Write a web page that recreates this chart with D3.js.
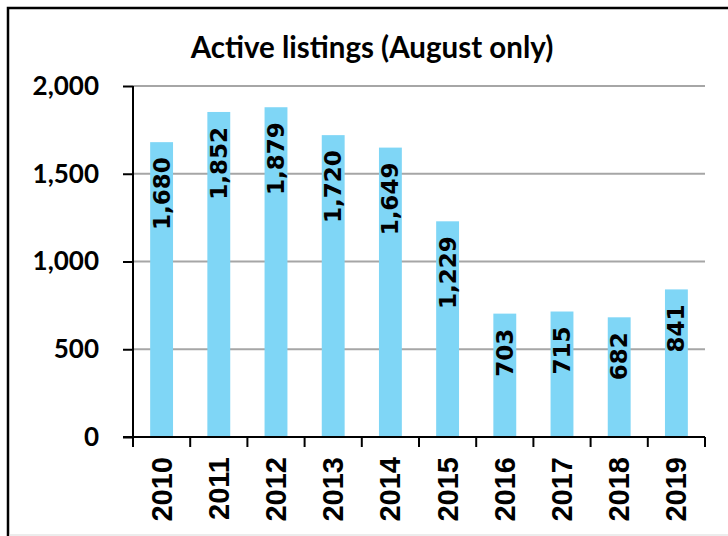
<!DOCTYPE html>
<html>
<head>
<meta charset="utf-8">
<script src="https://cdn.jsdelivr.net/npm/d3@7"></script>
<style>
  html, body { margin: 0; padding: 0; background: #fff; }
  svg { display: block; }
</style>
</head>
<body>
<div id="chart"></div>
<script>
const years = ['2010', '2011', '2012', '2013', '2014', '2015', '2016', '2017', '2018', '2019'];
const listings = [1680, 1852, 1879, 1720, 1649, 1229, 703, 715, 682, 841];
const yTicks = [0, 500, 1000, 1500, 2000];
const title = 'Active listings (August only)';

const width = 728, height = 536;
const margin = { left: 133, right: 23, top: 86, bottom: 99 };

const svg = d3.select('#chart')
  .append('svg')
  .attr('width', width)
  .attr('height', height);

// outer frame (runs off the right and bottom edges)
svg.append('rect')
  .attr('x', 8).attr('y', 8)
  .attr('width', width + 10).attr('height', height + 10)
  .attr('fill', 'none')
  .attr('stroke', '#000')
  .attr('stroke-width', 2.5);
svg.append('line')
  .attr('x1', 9).attr('x2', width)
  .attr('y1', 535).attr('y2', 535)
  .attr('stroke', '#d9d9d9');

const x = d3.scaleBand()
  .domain(years)
  .range([margin.left, width - margin.right])
  .paddingInner(0.6)
  .paddingOuter(0.3);

const y = d3.scaleLinear()
  .domain([0, 2000])
  .range([height - margin.bottom, margin.top]);

// gridlines
svg.append('g')
  .selectAll('line')
  .data(yTicks.filter(d => d > 0))
  .enter()
  .append('line')
  .attr('x1', margin.left)
  .attr('x2', width - margin.right)
  .attr('y1', d => y(d))
  .attr('y2', d => y(d))
  .attr('stroke', '#a6a6a6')
  .attr('stroke-width', 2);

// bars
svg.append('g')
  .selectAll('rect')
  .data(listings)
  .enter()
  .append('rect')
  .attr('x', (d, i) => x(years[i]))
  .attr('y', d => y(d))
  .attr('width', x.bandwidth())
  .attr('height', d => y(0) - y(d))
  .attr('fill', '#7fd6f6');

// value labels, rotated, inside the top of the bar
svg.append('g')
  .selectAll('text')
  .data(listings)
  .enter()
  .append('text')
  .attr('transform', (d, i) =>
    `translate(${x(years[i]) + x.bandwidth() / 2 + 8},${y(d) + 15}) rotate(-90)`)
  .attr('text-anchor', 'end')
  .style('font-family', 'DejaVu Sans')
  .style('font-weight', 'bold')
  .style('font-size', '23px')
  .attr('fill', '#000')
  .text(d => d3.format(',')(d));

// y axis
const yAxis = svg.append('g')
  .attr('transform', `translate(${margin.left},0)`)
  .call(d3.axisLeft(y).tickValues(yTicks).tickSize(10).tickPadding(24).tickFormat(d3.format(',')));
yAxis.selectAll('line, path').attr('stroke', '#000').attr('stroke-width', 2);
yAxis.select('.domain').attr('d', `M0,${y(2000)}V${y(0)}`);
yAxis.selectAll('text')
  .style('font-family', 'Lato')
  .style('font-weight', 'bold')
  .style('font-size', '26px')
  .attr('fill', '#000');

// x axis, ticks on category boundaries
const bound = d3.scaleLinear().domain([0, years.length]).range([margin.left, width - margin.right]);
const xg = svg.append('g');
xg.append('line')
  .attr('x1', margin.left - 10).attr('x2', width - margin.right)
  .attr('y1', y(0)).attr('y2', y(0))
  .attr('stroke', '#000').attr('stroke-width', 2);
xg.selectAll('line.tick')
  .data(d3.range(years.length + 1))
  .enter()
  .append('line')
  .attr('class', 'tick')
  .attr('x1', d => bound(d)).attr('x2', d => bound(d))
  .attr('y1', y(0)).attr('y2', y(0) + 10)
  .attr('stroke', '#000').attr('stroke-width', 2);
xg.selectAll('text')
  .data(years)
  .enter()
  .append('text')
  .attr('transform', d => `translate(${x(d) + x.bandwidth() / 2 + 10},${y(0) + 20}) rotate(-90)`)
  .attr('text-anchor', 'end')
  .style('font-family', 'Liberation Sans')
  .style('font-weight', 'bold')
  .style('font-size', '29px')
  .attr('fill', '#000')
  .text(d => d);

// title
svg.append('text')
  .attr('x', 372)
  .attr('y', 58)
  .attr('text-anchor', 'middle')
  .style('font-family', 'Lato')
  .style('font-weight', 'bold')
  .style('font-size', '29.5px')
  .attr('fill', '#000')
  .text(title);
</script>
</body>
</html>
